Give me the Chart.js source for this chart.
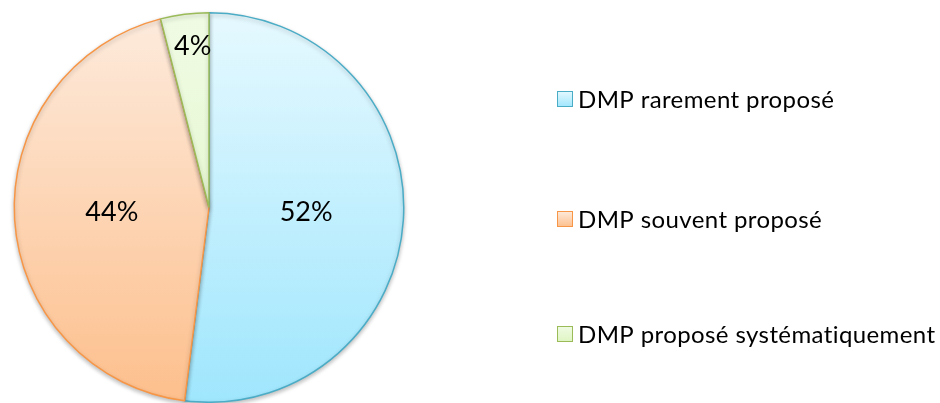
<!DOCTYPE html>
<html>
<head>
<meta charset="utf-8">
<script src="https://cdn.jsdelivr.net/npm/chart.js@4.4.1/dist/chart.umd.min.js"></script>
<style>
  html, body { margin: 0; padding: 0; background: #fff; }
  #wrap { width: 940px; height: 403px; }
</style>
</head>
<body>
<div id="wrap"><canvas id="chart_pie"></canvas></div>
<script>
// Données du graphique
const categories = ['DMP rarement proposé', 'DMP souvent proposé', 'DMP proposé systématiquement'];
const valeurs = [52, 44, 4];
const etiquettes = ['52%', '44%', '4%'];

// Couleurs (haut / bas du dégradé, bordure)
const hautCouleurs = ['#e6f9ff', '#fdebdd', '#f0fbe4'];
const basCouleurs = ['#9fe6fd', '#fdbf8c', '#def5c2'];
const bordures = ['#4bacc6', '#f79646', '#9bbb59'];

function degrade(ctx) {
    const chart = ctx.chart;
    const a = chart.chartArea;
    if (!a) return hautCouleurs[ctx.dataIndex];
    const g = chart.ctx.createLinearGradient(0, a.top, 0, a.bottom);
    g.addColorStop(0, hautCouleurs[ctx.dataIndex]);
    g.addColorStop(1, basCouleurs[ctx.dataIndex]);
    return g;
}

// Ombre légère sous le camembert
const ombre = {
    id: 'ombre',
    beforeDatasetsDraw(chart) {
        chart.ctx.save();
        chart.ctx.shadowColor = 'rgba(0,0,0,0.25)';
        chart.ctx.shadowBlur = 4;
        chart.ctx.shadowOffsetY = 2;
    },
    afterDatasetsDraw(chart) {
        chart.ctx.restore();
    }
};

// Pourcentages dans les parts
const etiquettesParts = {
    id: 'etiquettesParts',
    afterDraw(chart) {
        const ctx = chart.ctx;
        const meta = chart.getDatasetMeta(0);
        ctx.save();
        ctx.font = '27px Lato, sans-serif';
        ctx.fillStyle = '#000';
        ctx.textAlign = 'center';
        ctx.textBaseline = 'middle';
        meta.data.forEach((arc, i) => {
            const mid = (arc.startAngle + arc.endAngle) / 2;
            const f = valeurs[i] < 10 ? 0.83 : 0.5;
            const r = arc.outerRadius * f;
            ctx.fillText(etiquettes[i], arc.x + Math.cos(mid) * r + (valeurs[i] < 10 ? 4 : 0), arc.y + Math.sin(mid) * r - 1);
        });
        ctx.restore();
    }
};

// Légende à droite
const legende = {
    id: 'legende',
    afterDraw(chart) {
        const ctx = chart.ctx;
        const ys = [99, 219, 334];
        ctx.save();
        ctx.font = '24px Lato, sans-serif';
        ctx.letterSpacing = '0.4px';
        ctx.textBaseline = 'middle';
        categories.forEach((c, i) => {
            const g = ctx.createLinearGradient(0, ys[i] - 8, 0, ys[i] + 8);
            g.addColorStop(0, hautCouleurs[i]);
            g.addColorStop(1, basCouleurs[i]);
            ctx.fillStyle = g;
            ctx.fillRect(557, ys[i] - 8, 16, 16);
            ctx.strokeStyle = bordures[i];
            ctx.lineWidth = 1;
            ctx.strokeRect(557.5, ys[i] - 7.5, 15, 15);
            ctx.fillStyle = '#000';
            ctx.fillText(c, 578, ys[i] + 1);
        });
        ctx.restore();
    }
};

const pieCtx = document.getElementById('chart_pie').getContext('2d');
const chartPie = new Chart(pieCtx, {
    type: 'pie',
    data: {
        labels: categories,
        datasets: [{
            data: valeurs,
            backgroundColor: degrade,
            borderColor: bordures,
            borderWidth: 1.5
        }]
    },
    options: {
        responsive: true,
        maintainAspectRatio: false,
        animation: false,
        layout: { padding: { left: 13, right: 535, top: 12, bottom: 0 } },
        plugins: { legend: { display: false }, tooltip: { enabled: false } }
    },
    plugins: [ombre, etiquettesParts, legende]
});
</script>
</body>
</html>
